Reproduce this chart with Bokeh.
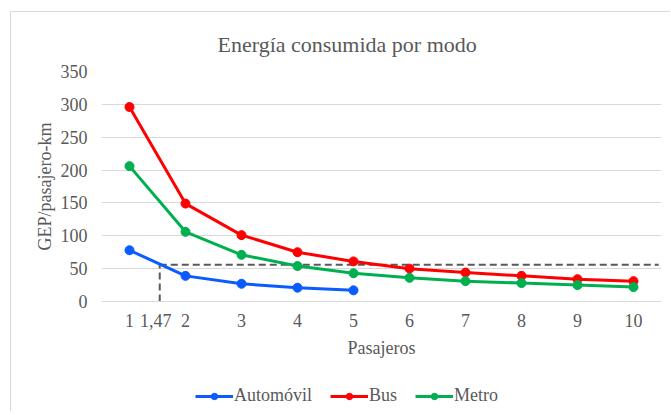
from bokeh.plotting import figure
from bokeh.layouts import column
from bokeh.models import (ColumnDataSource, FixedTicker, Legend, LegendItem, Title, Range1d)
from bokeh.embed import file_html
from bokeh.resources import INLINE

# ---- data ----
pasajeros = [1, 2, 3, 4, 5, 6, 7, 8, 9, 10]
automovil_x = [1, 2, 3, 4, 5]
automovil = [78, 39, 27, 21, 17]
bus = [296, 149, 101, 75, 61, 50, 44, 39, 34, 31]
metro = [206, 106, 71, 54, 43, 36, 31, 28, 25, 22]
umbral_y = 56          # horizontal reference value
umbral_x_label = 1.47  # labelled crossing point
cruce_x = 1.54         # where the dashed drop line is drawn
x_ticks = [1, 1.47, 2, 3, 4, 5, 6, 7, 8, 9, 10]
y_ticks = [0, 50, 100, 150, 200, 250, 300, 350]

FONT = "Liberation Serif"
TXT = "#595959"
BORDER = "1px solid #d9d9d9"

p = figure(width=660, height=360, output_backend="svg", toolbar_location=None,
           x_range=(0.5, 10.5), y_range=(0, 350),
           min_border_left=90, min_border_right=10, min_border_top=59,
           min_border_bottom=71)
p.margin = (11, 0, 0, 10)
p.styles = {"border-left": BORDER, "border-top": BORDER}
p.outline_line_color = None
p.background_fill_color = "white"
p.border_fill_color = "white"

title = Title(text="Energía consumida por modo", align="left", offset=116,
              text_font=FONT, text_font_size="22px", text_font_style="normal",
              text_color=TXT, standoff=30)
p.add_layout(title, "above")

# grid
p.xgrid.grid_line_color = None
p.ygrid.grid_line_color = "#d9d9d9"
p.ygrid.grid_line_width = 1
p.ygrid.ticker = FixedTicker(ticks=y_ticks)

# axes
xa = p.xaxis[0]
xa.ticker = FixedTicker(ticks=x_ticks)
xa.major_label_overrides = {1.47: "1,47", **{t: str(t) for t in pasajeros}}
xa.axis_line_color = "#d9d9d9"
xa.major_tick_line_color = None
xa.minor_tick_line_color = None
xa.major_label_standoff = 6
xa.major_label_text_font = FONT
xa.major_label_text_font_size = "18px"
xa.major_label_text_color = TXT
xa.axis_label = "Pasajeros"
xa.axis_label_text_font = FONT
xa.axis_label_text_font_size = "18px"
xa.axis_label_text_font_style = "normal"
xa.axis_label_text_color = TXT
xa.axis_label_standoff = 8

ya = p.yaxis[0]
ya.ticker = FixedTicker(ticks=y_ticks)
ya.axis_line_color = None
ya.major_tick_line_color = None
ya.minor_tick_line_color = None
ya.major_label_standoff = 8
ya.major_label_text_font = FONT
ya.major_label_text_font_size = "18px"
ya.major_label_text_color = TXT
ya.axis_label = "GEP/pasajero-km"
ya.axis_label_text_font = FONT
ya.axis_label_text_font_size = "18px"
ya.axis_label_text_font_style = "normal"
ya.axis_label_text_color = TXT
ya.axis_label_standoff = 3

# dashed reference lines
ref = ColumnDataSource(dict(x0=[cruce_x, cruce_x], y0=[umbral_y, 0],
                            x1=[10.45, cruce_x], y1=[umbral_y, umbral_y]))
p.segment(x0="x0", y0="y0", x1="x1", y1="y1", source=ref,
          line_color="#595959", line_width=2, line_dash="7 4")

colors = {"Automóvil": "#0b5cff", "Bus": "#ff0000", "Metro": "#00b050"}
series = [("Automóvil", automovil_x, automovil),
          ("Bus", pasajeros, bus),
          ("Metro", pasajeros, metro)]

# legend strip underneath (same series, out of its view, used for legend glyphs)
q = figure(width=660, height=40, output_backend="svg", toolbar_location=None,
           x_range=Range1d(0.5, 10.5), y_range=Range1d(1000, 1001),
           min_border=0, x_axis_type=None, y_axis_type=None)
q.margin = (0, 0, 0, 10)
q.styles = {"border-left": BORDER}
q.outline_line_color = None
q.grid.visible = False
q.background_fill_color = "white"
q.border_fill_color = "white"

items = []
for name, xs, ys in series:
    c = colors[name]
    p.line(xs, ys, line_color=c, line_width=3)
    p.scatter(xs, ys, size=9, fill_color=c, line_color=c)
    l = q.line(xs, ys, line_color=c, line_width=3)
    s = q.scatter(xs, ys, size=9, fill_color=c, line_color=c)
    items.append(LegendItem(label=name, renderers=[l, s]))

legend = Legend(items=items, orientation="horizontal", location=(94, 5),
                label_text_font=FONT, label_text_font_size="18px",
                label_text_color=TXT, glyph_width=38, glyph_height=16,
                label_standoff=1, spacing=18, padding=0, margin=0,
                border_line_color=None, background_fill_alpha=0)
q.add_layout(legend, "center")

layout = column(p, q, spacing=0)
open("out.html", "w").write(file_html(layout, INLINE))
